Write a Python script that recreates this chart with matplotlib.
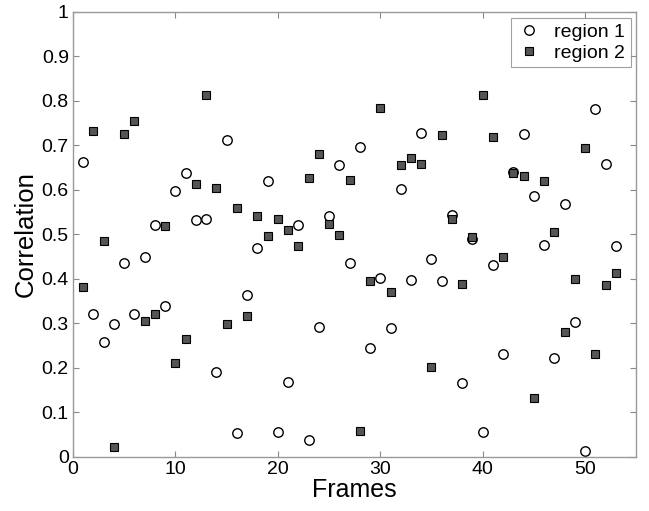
import matplotlib.pyplot as plt
import numpy as np

frames = np.arange(1, 54)

region1 = [0.663, 0.322, 0.258, 0.298, 0.436, 0.320, 0.448, 0.522, 0.340, 0.597,
           0.638, 0.533, 0.535, 0.191, 0.712, 0.053, 0.363, 0.470, 0.619, 0.055,
           0.168, 0.522, 0.037, 0.291, 0.540, 0.656, 0.436, 0.696, 0.244, 0.401,
           0.289, 0.601, 0.397, 0.728, 0.444, 0.395, 0.544, 0.166, 0.490, 0.056,
           0.430, 0.232, 0.640, 0.726, 0.586, 0.475, 0.222, 0.567, 0.303, 0.012,
           0.781, 0.658, 0.474]

region2 = [0.381, 0.733, 0.484, 0.021, 0.725, 0.754, 0.305, 0.321, 0.519, 0.210,
           0.264, 0.613, 0.814, 0.605, 0.299, 0.558, 0.316, 0.541, 0.496, 0.535,
           0.509, 0.473, 0.627, 0.681, 0.523, 0.498, 0.621, 0.057, 0.394, 0.784,
           0.370, 0.656, 0.672, 0.659, 0.202, 0.723, 0.535, 0.388, 0.494, 0.813,
           0.719, 0.449, 0.638, 0.631, 0.133, 0.619, 0.506, 0.280, 0.400, 0.694,
           0.230, 0.387, 0.413]

xticks = [0, 10, 20, 30, 40, 50]
yticks = [0, 0.1, 0.2, 0.3, 0.4, 0.5, 0.6, 0.7, 0.8, 0.9, 1]
ytick_labels = ['0', '0.1', '0.2', '0.3', '0.4', '0.5', '0.6', '0.7', '0.8', '0.9', '1']

plt.rcParams['font.family'] = ['Liberation Sans', 'DejaVu Sans']

fig = plt.figure(figsize=(6.49, 5.11), dpi=100)
ax = fig.add_axes([0.1125, 0.106, 0.868, 0.871])

ax.plot(frames, region1, linestyle='none', marker='o', ms=6.8,
        mfc='white', mec='black', mew=1.0, label='region 1')
ax.plot(frames, region2, linestyle='none', marker='s', ms=5.5,
        mfc='#555555', mec='black', mew=0.8, label='region 2')

ax.set_xlim(0, 55)
ax.set_ylim(0, 1)
ax.set_xticks(xticks)
ax.set_yticks(yticks)
ax.set_yticklabels(ytick_labels)
ax.tick_params(direction='in', top=True, right=True, length=4, width=0.8,
               color='#888888', labelsize=14, pad=3)
for s in ax.spines.values():
    s.set_color('#999999')
    s.set_linewidth(1.0)

ax.set_xlabel('Frames', fontsize=18, labelpad=0)
ax.set_ylabel('Correlation', fontsize=18.5, labelpad=3)

leg = ax.legend(loc='upper right', fontsize=14, fancybox=False,
                borderaxespad=0.3, handletextpad=0.7, borderpad=0.3,
                labelspacing=0.15, handlelength=1.2)
leg.get_frame().set_edgecolor('#888888')
leg.get_frame().set_linewidth(0.8)

plt.savefig('out.png', dpi=100)
